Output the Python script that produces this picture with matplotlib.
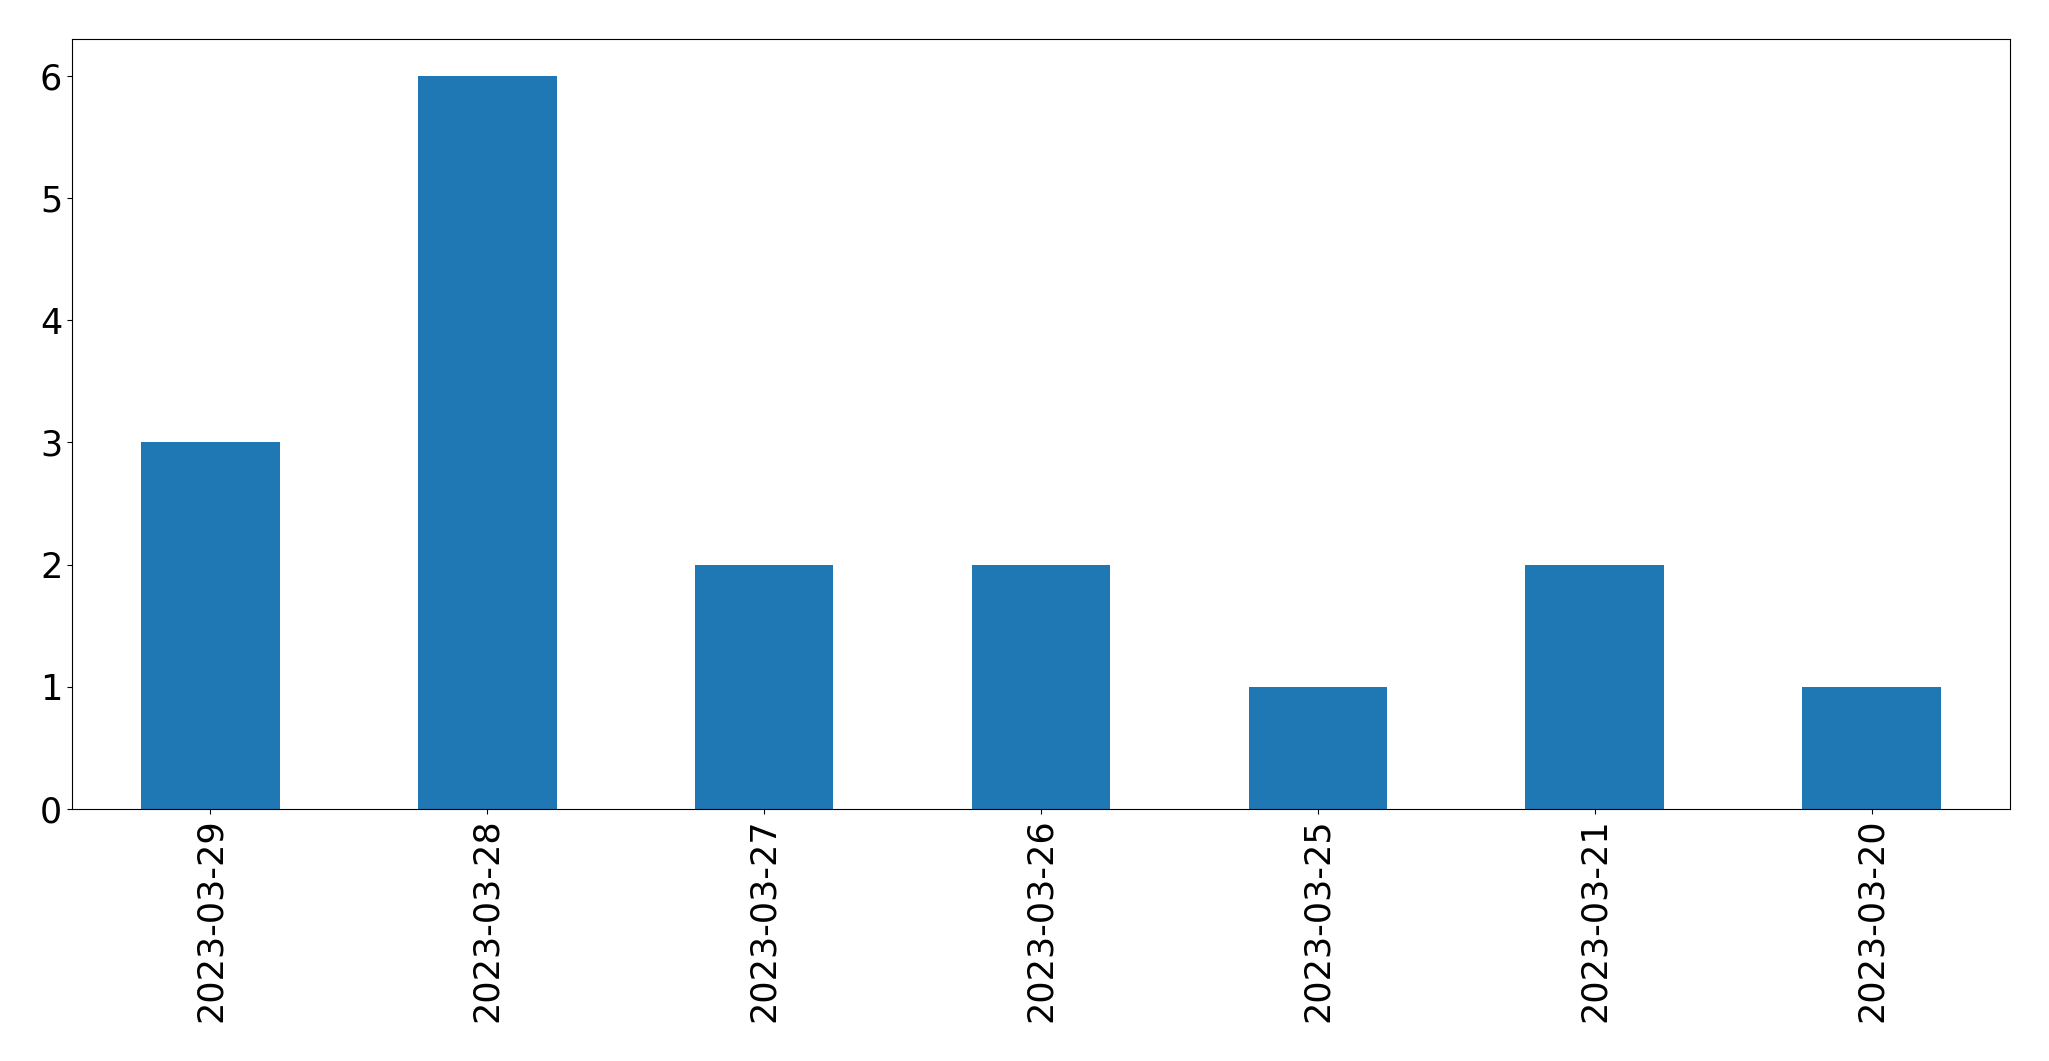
import matplotlib
matplotlib.use("Agg")
import matplotlib.pyplot as plt

dates = ["2023-03-29", "2023-03-28", "2023-03-27", "2023-03-26",
         "2023-03-25", "2023-03-21", "2023-03-20"]
counts = [3, 6, 2, 2, 1, 2, 1]

W, H = 2049, 1061
fig = plt.figure(figsize=(W / 100, H / 100), dpi=100)
ax = fig.add_axes([72 / W, 1 - 809 / H, 1938 / W, 770 / H])
x = list(range(len(dates)))
ax.bar(x, counts, width=0.5, color="#1f77b4")
ax.set_xlim(-0.5, len(dates) - 0.5)
ax.set_ylim(0, max(counts) * 1.05)
ax.set_xticks(x)
ax.set_xticklabels(dates, rotation=90)
ax.tick_params(labelsize=25.2)
fig.savefig("out.png", dpi=100)
